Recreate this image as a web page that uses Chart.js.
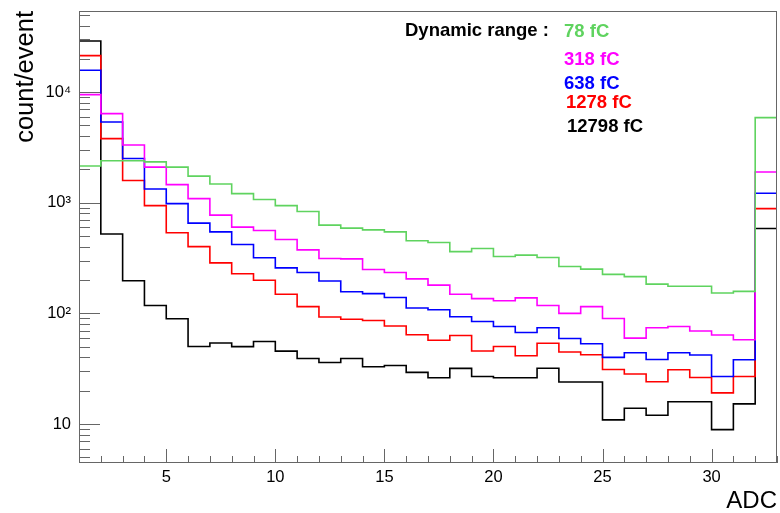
<!DOCTYPE html>
<html>
<head>
<meta charset="utf-8">
<script src="https://cdn.jsdelivr.net/npm/chart.js@4.4.1/dist/chart.umd.min.js"></script>
<style>
  html, body { margin: 0; padding: 0; background: #fff; }
</style>
</head>
<body>
<canvas id="adcChart" width="780" height="513"></canvas>
<script>
// bin edges of the ADC histogram, bin i goes from binEdges[i] to binEdges[i+1]
const binEdges = [1, 2, 3, 4, 5, 6, 7, 8, 9, 10, 11, 12, 13, 14, 15, 16, 17,
                  18, 19, 20, 21, 22, 23, 24, 25, 26, 27, 28, 29, 30, 31, 32, 33];

const rangeLabels = ["78 fC", "318 fC", "638 fC", "1278 fC", "12798 fC"];

// count/event per ADC bin, one list for each dynamic range
const counts78 = [2150, 2400, 2400, 2340, 2100, 1740, 1480, 1210, 1070, 943, 833, 628, 590, 569, 546, 453,
                  437, 362, 386, 327, 336, 320, 265, 251, 225, 215, 184, 176, 176, 153, 158, 5890];
const counts318 = [9490, 6400, 3330, 2100, 1460, 1090, 773, 602, 561, 465, 375, 313, 311, 249, 234, 205,
                   180, 149, 136, 130, 138, 118, 100, 115, 90, 59.8, 74.1, 76.1, 69.3, 63.7, 57.7, 1900];
const counts638 = [15770, 5380, 2510, 1330, 982, 655, 546, 419, 318, 258, 234, 196, 157, 151, 139, 112,
                   108, 93.2, 84.5, 76.1, 67.2, 74.1, 59.3, 53.1, 40, 44.1, 38.3, 44.1, 42.1, 26.9, 38.1, 1220];
const counts1278 = [21370, 3800, 1590, 943, 535, 401, 286, 228, 199, 149, 115, 92.6, 88.5, 86.3, 76.9, 64.1,
                    57.1, 63.1, 45.7, 50.2, 41.4, 53.7, 44.7, 42.3, 31.1, 28.3, 24.1, 30.9, 26.3, 19.1, 26.9, 886];
const counts12798 = [29000, 522, 197, 118, 89.4, 50.2, 53.9, 50.1, 55.7, 45.6, 39.1, 36, 39.1, 32.9, 33.8, 29.3,
                     26.2, 31.8, 26.9, 26.2, 26.2, 31.9, 24, 24, 10.9, 13.9, 12, 15.9, 15.9, 8.9, 15.2, 585];

const xTickValues = [5, 10, 15, 20, 25, 30];
const yTickValues = [10, 100, 1000, 10000];
const yTickLabels = ["10", "10²", "10³", "10⁴"];

const allCounts = [counts78, counts318, counts638, counts1278, counts12798];
const colors = ["#5fd35f", "#ff00ff", "#0000ff", "#ff0000", "#000000"];
const FONT = "'Liberation Sans', Arial, Helvetica, sans-serif";

// histogram -> points at the bin edges, last edge repeats the last bin
function histPoints(vals) {
    return binEdges.map((e, i) => ({ x: e, y: vals[Math.min(i, vals.length - 1)] }));
}

// ROOT style frame with ticks pointing inward + the "Dynamic range" text
const rootFrame = {
    id: "rootFrame",
    afterDraw(chart) {
        const ctx = chart.ctx;
        const a = chart.chartArea;
        const xs = chart.scales.x, ys = chart.scales.y;
        ctx.save();
        ctx.strokeStyle = "#666";
        ctx.lineWidth = 1;
        ctx.strokeRect(a.left + 0.5, a.top + 0.5, a.right - a.left - 1, a.bottom - a.top - 1);

        ctx.beginPath();
        // x ticks, every unit, longer at multiples of 5
        for (let v = Math.ceil(xs.min); v <= xs.max; v++) {
            const px = Math.round(xs.getPixelForValue(v)) + 0.5;
            const len = v % 5 === 0 ? 14 : 7;
            ctx.moveTo(px, a.bottom);
            ctx.lineTo(px, a.bottom - len);
        }
        // y ticks, log decades
        for (let p = 0; p <= 4; p++) {
            for (let m = 1; m <= 9; m++) {
                const v = m * Math.pow(10, p);
                if (v <= ys.min || v >= ys.max) continue;
                const py = Math.round(ys.getPixelForValue(v)) + 0.5;
                const len = m === 1 ? 21 : 11;
                ctx.moveTo(a.left, py);
                ctx.lineTo(a.left + len, py);
            }
        }
        ctx.stroke();

        // legend text
        ctx.font = "bold 18.5px " + FONT;
        ctx.textBaseline = "alphabetic";
        ctx.textAlign = "left";
        ctx.fillStyle = "#000";
        ctx.fillText("Dynamic range :", 405, 36);
        const lx = [564, 564, 564, 566, 567];
        const ly = [37, 65, 89, 108, 132];
        rangeLabels.forEach((t, i) => {
            ctx.fillStyle = colors[i];
            ctx.fillText(t, lx[i], ly[i]);
        });
        ctx.restore();
    }
};

const ctx = document.getElementById("adcChart");
new Chart(ctx, {
    type: "line",
    data: {
        datasets: allCounts.map((vals, i) => ({
            label: rangeLabels[i],
            data: histPoints(vals),
            stepped: "before",
            borderColor: colors[i],
            borderWidth: 1.6,
            pointRadius: 0,
            fill: false
        }))
    },
    options: {
        responsive: false,
        animation: false,
        layout: { padding: { top: 11, right: 3, left: 0, bottom: 0 } },
        plugins: { legend: { display: false }, tooltip: { enabled: false } },
        scales: {
            x: {
                type: "linear",
                min: 1,
                max: 33,
                grid: { display: false, drawTicks: false },
                border: { display: false },
                afterFit: s => { s.height = 50; s.paddingLeft = 0; s.paddingRight = 0; },
                afterBuildTicks: s => { s.ticks = xTickValues.map(v => ({ value: v })); },
                ticks: {
                    padding: 5,
                    maxRotation: 0,
                    color: "#000",
                    font: { family: FONT, size: 16.5 }
                },
                title: {
                    display: true,
                    text: "ADC",
                    align: "end",
                    color: "#000",
                    font: { family: FONT, size: 24, lineHeight: 1.0 },
                    padding: { top: 0, bottom: 0 }
                }
            },
            y: {
                type: "logarithmic",
                min: 4.44,
                max: 54150,
                grid: { display: false, drawTicks: false },
                border: { display: false },
                afterFit: s => { s.width = 79; s.paddingTop = 0; s.paddingBottom = 0; },
                afterBuildTicks: s => { s.ticks = yTickValues.map(v => ({ value: v })); },
                ticks: {
                    padding: 8,
                    color: "#000",
                    font: { family: FONT, size: 16.5 },
                    callback: (v) => {
                        const k = yTickValues.indexOf(v);
                        return k >= 0 ? yTickLabels[k] : "";
                    }
                },
                title: {
                    display: true,
                    text: "count/event",
                    align: "end",
                    color: "#000",
                    font: { family: FONT, size: 25.5 },
                    padding: { top: 11, bottom: 0 }
                }
            }
        }
    },
    plugins: [rootFrame]
});
</script>
</body>
</html>
